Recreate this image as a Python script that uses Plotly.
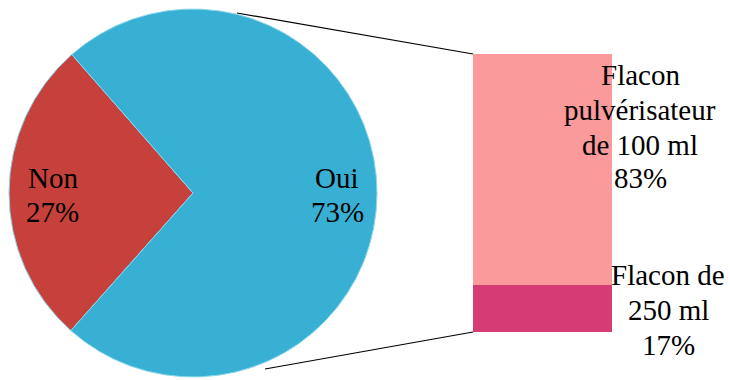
import plotly.graph_objects as go

# ---- data ----
pie_labels = ["Non", "Oui"]
pie_values = [27, 73]
pie_colors = ["#C6403C", "#38B0D3"]

bar_labels = ["Flacon de|250 ml", "Flacon|pulvérisateur|de 100 ml"]
bar_values = [17, 83]
bar_colors = ["#D43C73", "#FA9A9A"]

W, H = 730, 380
FONT = "Liberation Serif, Times New Roman, serif"
FS = 29

def px(x):
    return x / W

def py(y):
    return 1 - y / H

fig = go.Figure()

# pie
cx, cy, r = 193, 193, 184
fig.add_trace(go.Pie(
    labels=pie_labels, values=pie_values, sort=False, direction="clockwise",
    rotation=221.6, textinfo="none", hoverinfo="label+percent",
    marker=dict(colors=pie_colors, line=dict(color="#8AD6EC", width=1)),
    domain=dict(x=[px(cx - r), px(cx + r)], y=[py(cy + r), py(cy - r)]),
    showlegend=False,
))

# stacked bar
for lab, v, c in zip(bar_labels, bar_values, bar_colors):
    fig.add_trace(go.Bar(
        x=[0], y=[v], name=lab.replace("|", " "), marker=dict(color=c, line=dict(width=0)),
        width=1, showlegend=False, hoverinfo="name+y",
    ))

bx0, bx1, by0, by1 = 473, 612, 54, 332
fig.update_layout(
    barmode="stack",
    width=W, height=H,
    margin=dict(l=0, r=0, t=0, b=0),
    paper_bgcolor="white", plot_bgcolor="rgba(0,0,0,0)",
    xaxis=dict(domain=[px(bx0), px(bx1)], range=[-0.5, 0.5], showgrid=False, zeroline=False,
               showticklabels=False, showline=False, ticks="", fixedrange=True),
    yaxis=dict(domain=[py(by1), py(by0)], range=[0, 100], showgrid=False, zeroline=False,
               showticklabels=False, showline=False, ticks="", fixedrange=True),
    font=dict(family=FONT, size=FS, color="black"),
)

def add_lines(lines, xc, baselines):
    for t, b in zip(lines, baselines):
        fig.add_annotation(x=px(xc), y=py(b - 10), xref="paper", yref="paper",
                           text=t, showarrow=False, xanchor="center", yanchor="middle",
                           font=dict(family=FONT, size=FS, color="black"))

# pie labels
total = sum(pie_values)
pie_pos = {"Non": (53, [188, 222]), "Oui": (337, [188, 222])}
for lab, v in zip(pie_labels, pie_values):
    xc, bl = pie_pos[lab]
    add_lines([lab, f"{round(100*v/total)}%"], xc, bl)

# bar labels
btotal = sum(bar_values)
bar_pos = [(668, [285, 320, 355]), (640, [85, 120, 155, 188])]
for (xc, bl), lab, v in zip(bar_pos, bar_labels, bar_values):
    add_lines(lab.split("|") + [f"{round(100*v/btotal)}%"], xc, bl)

# connector lines
fig.add_shape(type="line", xref="paper", yref="paper",
              x0=px(237), y0=py(13), x1=px(bx0), y1=py(by0),
              line=dict(color="black", width=1.2))
fig.add_shape(type="line", xref="paper", yref="paper",
              x0=px(265), y0=py(369), x1=px(bx0), y1=py(by1),
              line=dict(color="black", width=1.2))

fig.write_html("out.html", config={"displayModeBar": False},
               post_script="document.body.style.margin='0';")
